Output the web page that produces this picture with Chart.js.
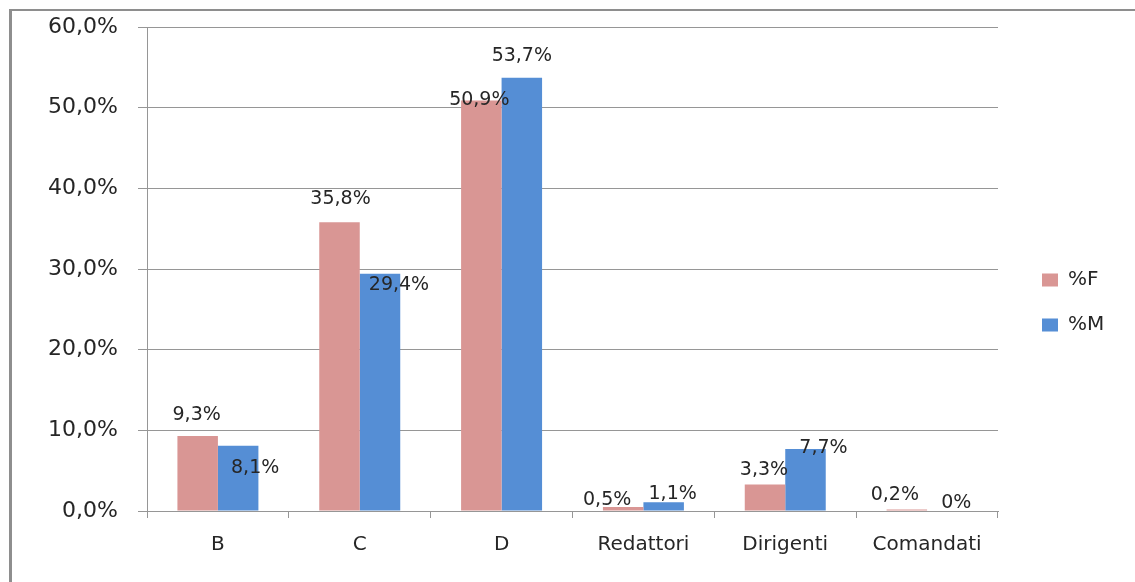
<!DOCTYPE html>
<html>
<head>
<meta charset="utf-8">
<script src="https://cdn.jsdelivr.net/npm/chart.js@4.4.1/dist/chart.umd.min.js"></script>
<style>
  html, body { margin: 0; padding: 0; background: #ffffff; }
  #wrap { position: relative; width: 1135px; height: 582px; overflow: hidden; }
  #wrap canvas { position: absolute; left: 0; top: 0; }
  #frame {
    position: absolute; left: 9px; top: 9px; right: -10px; bottom: -10px;
    border-left: 3px solid #8e8e8e; border-top: 2px solid #8e8e8e;
    pointer-events: none;
  }
</style>
</head>
<body>
<div id="wrap">
  <canvas id="chart" width="1135" height="582"></canvas>
  <div id="frame"></div>
</div>
<script>
// Staff distribution by category, women vs men (percent of each group)
const categories = ['B', 'C', 'D', 'Redattori', 'Dirigenti', 'Comandati'];
const seriesNames = ['%F', '%M'];
const valuesF = [9.3, 35.8, 50.9, 0.5, 3.3, 0.2];
const valuesM = [8.1, 29.4, 53.7, 1.1, 7.7, 0];
const yMin = 0, yMax = 60, yStep = 10;

const colorF = '#D99694';
const colorM = '#558ED5';
const gridColor = '#969696';
const textColor = '#262626';
const fontFamily = '"DejaVu Sans", Verdana, sans-serif';

// Legend metrics: the plot ends where the legend column starts
const legendFontSize = 20, legendBox = 16, legendPad = 25;
const plotRightGap = 137;   // space from plot edge to canvas edge
const measureCtx = document.createElement('canvas').getContext('2d');
measureCtx.font = legendFontSize + 'px ' + fontFamily;
const legendTextW = Math.max(...seriesNames.map(s => measureCtx.measureText(s).width));
const legendW = legendPad + legendBox + legendFontSize / 2 + legendTextW + 10;

function pct(v) {
  return v === 0 ? '0%' : v.toFixed(1).replace('.', ',') + '%';
}

// Value labels, nudged per bar (dx, dy from the bar's top centre)
const valueLabels = {
  id: 'valueLabels',
  afterDatasetsDraw(chart, args, opts) {
    const ctx = chart.ctx;
    ctx.save();
    ctx.font = opts.font;
    ctx.fillStyle = opts.color;
    ctx.textAlign = 'center';
    ctx.textBaseline = 'middle';
    chart.data.datasets.forEach((ds, di) => {
      const meta = chart.getDatasetMeta(di);
      meta.data.forEach((bar, i) => {
        const n = (opts.nudge[di] || [])[i] || [0, -20];
        ctx.fillText(pct(ds.data[i]), bar.x + n[0], bar.y + n[1]);
      });
    });
    ctx.restore();
  }
};

// Moves the legend block to its place beside the plot
const legendPlace = {
  id: 'legendPlace',
  afterLayout(chart, args, opts) {
    const l = chart.legend;
    if (!l) return;
    l.left += opts.dx; l.right += opts.dx;
    l.top += opts.dy; l.bottom += opts.dy;
  }
};

new Chart(document.getElementById('chart'), {
  type: 'bar',
  data: {
    labels: categories,
    datasets: [
      { label: seriesNames[0], data: valuesF, backgroundColor: colorF, borderWidth: 0 },
      { label: seriesNames[1], data: valuesM, backgroundColor: colorM, borderWidth: 0 }
    ]
  },
  options: {
    responsive: false,
    animation: false,
    devicePixelRatio: 1,
    categoryPercentage: 0.571,
    barPercentage: 1.0,
    layout: { padding: { left: 0, top: 27, right: plotRightGap - legendW, bottom: 0 } },
    scales: {
      x: {
        afterFit(scale) { scale.height = 71; },
        grid: {
          offset: true, drawOnChartArea: false, drawTicks: true,
          tickLength: 7, color: gridColor, lineWidth: 1
        },
        border: { display: true, color: gridColor, width: 1 },
        ticks: {
          color: textColor, padding: 15,
          font: { family: fontFamily, size: 20 }
        }
      },
      y: {
        min: yMin, max: yMax,
        afterFit(scale) {
          scale.width = 147;
          scale.paddingTop = 0;
          scale.paddingBottom = 0;
        },
        grid: { color: gridColor, lineWidth: 1, drawTicks: true, tickLength: 9 },
        border: { display: true, color: gridColor, width: 1 },
        ticks: {
          stepSize: yStep, color: textColor, padding: 20,
          font: { family: fontFamily, size: 22 },
          callback: (v) => v.toFixed(1).replace('.', ',') + '%'
        }
      }
    },
    plugins: {
      tooltip: { enabled: false },
      legend: {
        position: 'right',
        align: 'center',
        labels: {
          boxWidth: legendBox, boxHeight: 13, padding: legendPad,
          color: textColor,
          font: { family: fontFamily, size: legendFontSize }
        }
      },
      legendPlace: { dx: 19, dy: -2 },
      valueLabels: {
        font: '19px "DejaVu Sans", Verdana, sans-serif',
        color: textColor,
        nudge: [
          [[-1, -21], [1, -23], [-2, 0], [-16, -7], [-1, -14], [-12, -14]],
          [[17, 22], [19, 11], [0, -22], [9, -8], [18, -1], [9, -8]]
        ]
      }
    }
  },
  plugins: [valueLabels, legendPlace]
});
</script>
</body>
</html>
